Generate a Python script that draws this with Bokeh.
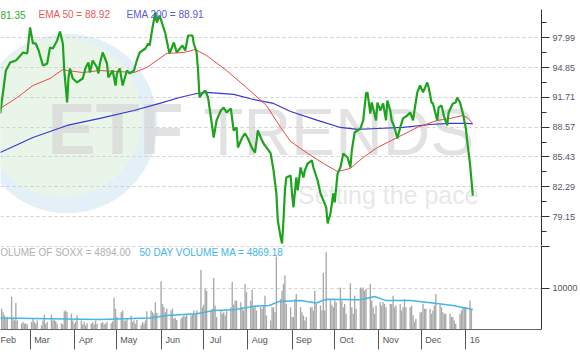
import pandas as pd
from bokeh.plotting import figure
from bokeh.layouts import column
from bokeh.models import Range1d, FixedTicker, PrintfTickFormatter, Label
from bokeh.core.properties import value
from bokeh.embed import file_html
from bokeh.resources import INLINE

BASE = pd.Timestamp("2015-01-01")
FONT = "Liberation Sans"

# ---- price (close), days counted from 2015-01-01 ----
close_day = [38,42,45,49,51,54,57,59,61,63,65,68,71,73,75,78,80,82,83,85,
             86,87,89,92,96,98,100,101,103,106,107,108,110,113,114,117,119,120,122,124,
             127,129,132,134,136,140,142,143,145,147,148,150,154,156,157,160,162,166,168,170,
             173,174,176,177,178,180,182,184,186,188,190,193,195,197,200,202,204,205,208,210,
             212,215,217,219,221,223,225,228,230,232,233,235,236,237,238,239,242,243,244,246,
             247,249,251,252,254,257,258,261,263,265,267,268,270,272,273,275,277,279,282,284,
             285,287,291,293,295,296,298,299,300,302,303,305,307,309,310,312,313,315,317,319,
             321,324,326,328,329,331,333,335,338,339,341,342,345,346,348,350,352,353,356,358,
             359,361,363,365,366,368,370]
close = [90.01,94.54,95.39,95.60,95.91,96.44,96.34,99.08,97.39,97.39,
         96.65,95.07,95.28,96.97,96.86,97.71,98.65,97.39,94.54,91.17,
         93.81,94.76,93.70,93.28,93.70,94.86,95.39,94.33,95.60,94.86,
         94.23,95.28,96.44,95.28,93.81,94.54,92.96,94.23,94.76,92.96,
         94.54,94.23,94.54,95.60,96.44,96.86,97.39,97.18,99.08,100.66,
         99.60,100.34,98.44,96.97,96.34,97.49,96.44,97.18,96.65,98.23,
         98.23,97.39,96.44,94.54,91.70,92.12,92.44,91.70,89.59,87.48,
         89.28,90.33,90.65,90.12,90.54,88.22,88.54,86.43,87.48,87.91,
         87.38,86.33,85.90,88.22,87.48,86.85,86.43,85.80,84.01,81.58,
         78.74,76.95,76.32,78.74,81.90,83.27,83.48,81.58,80.11,83.27,
         81.90,84.32,83.27,84.01,84.74,85.06,84.32,82.95,81.58,80.85,
         80.11,78.42,79.48,81.58,80.64,83.69,84.32,85.80,85.38,84.32,
         86.11,88.01,88.43,89.28,92.12,92.23,90.01,91.17,90.54,89.28,
         91.17,90.33,91.07,89.28,91.38,90.33,89.28,88.54,87.38,88.54,
         89.49,89.80,90.12,89.28,90.33,92.23,92.96,92.23,93.28,92.75,
         91.17,91.07,89.28,90.65,90.86,89.59,88.75,90.12,91.07,91.17,
         91.70,91.17,90.01,88.54,87.17,84.74,81.35]

ema50_day = [38,50,61,73,82,85,96,108,120,132,141,155,167,175,183,197,211,225,235,242,
             254,265,275,284,293,303,317,331,345,354,363,366,370]
ema50 = [90.54,91.70,92.96,93.70,94.65,94.54,94.33,94.54,94.44,94.33,94.86,96.34,96.44,96.76,
         96.12,94.54,92.75,90.86,88.54,87.06,85.80,84.74,83.90,84.22,85.38,86.43,87.48,88.54,
         89.28,89.49,89.80,89.59,88.92]

ema200_day = [38,61,85,108,132,150,164,176,183,202,216,230,242,261,277,289,303,321,340,354,366,370]
ema200 = [85.90,87.48,88.75,89.49,90.33,91.07,91.70,92.12,92.23,92.02,91.49,91.07,90.22,89.28,
          88.54,88.33,88.43,88.54,88.85,88.96,88.96,88.91]

# ---- daily volume (thousands of shares), trading days from 2015-02-09 ----
vol_feb = [5.0,4.2,3.4,2.6,3.0,8.0,2.8,2.2,6.4,2.2,1.4,1.8,1.4,1.5,1.2]
vol_mar = [1.8,2.8,1.8,1.4,2.2,1.0,2.2,3.6,1.4,1.8,3.6,2.2,2.3,2.0,1.4,1.5,1.2,4.4,4.6,4.2,3.8,2.2]
vol_apr = [1.4,1.8,3.4,2.2,1.2,1.8,1.0,1.5,1.4,1.8,1.2,2.2,1.4,1.5,1.8,1.2,1.4,1.8,1.5,2.0,7.7,5.0]
vol_may = [3.0,4.2,4.6,2.2,2.2,2.8,3.4,1.8,2.2,1.4,2.3,1.0,1.8,1.4,2.2,4.4,4.6,4.2,3.8,6.6,4.0]
vol_jun = [11.7,6.2,5.4,4.2,5.0,4.6,5.0,2.6,2.8,2.3,2.6,3.0,3.4,3.1,3.6,3.4,3.6,4.6,3.8,4.6,14.4,5.4]
vol_jul = [6.0,9.8,9.4,4.6,5.0,12.5,5.8,3.0,4.6,3.8,4.2,3.4,4.4,5.4,11.5,6.0,7.0,7.0,6.6,5.4,4.6,11.1,9.0]
vol_aug = [7.0,9.6,5.4,5.8,4.6,5.4,5.0,5.6,8.2,3.4,2.2,5.4,5.4,4.2,17.7,7.4,9.4,11.1,13.1,6.2,5.4]
vol_sep = [3.0,3.0,7.4,8.6,5.4,4.2,3.4,2.2,3.0,5.4,5.4,4.6,9.4,6.2,5.8,4.6,13.7,4.6,18.7,7.0,6.0,5.4]
vol_oct = [7.0,6.6,10.2,7.0,5.4,6.2,3.8,11.2,5.4,3.8,8.2,5.0,10.2,9.8,10.2,9.4,9.8,11.1,7.0,5.4,3.8,5.8]
vol_nov = [6.6,5.8,6.6,6.2,5.4,6.2,6.2,8.2,5.4,5.8,6.2,4.6,5.4,7.4,5.4,5.4,5.8,3.4,1.8,2.6,4.2]
vol_dec = [4.2,6.2,5.0,5.0,5.0,3.8,4.6,5.8,8.6,6.0,5.4,4.2,3.8,3.8,3.8,3.0,3.0,2.2,1.4,3.8,4.6,5.4,5.4]
vol_jan = [5.4,7.0,4.894]

volma_day = [38,73,108,143,155,176,188,202,216,227,234,249,260,267,291,301,309,326,342,356,370]
volma_k = [2.8,2.6,2.4,2.8,3.4,3.8,4.6,4.8,5.6,5.8,6.8,7.0,6.4,7.3,7.2,8.0,7.0,7.0,6.4,5.8,4.869]

price_ticks = [97.99, 94.85, 91.71, 88.57, 85.43, 82.29, 79.15]
volume_ticks = [10000, 20000]
month_labels = ["Feb", "Mar", "Apr", "May", "Jun", "Jul", "Aug", "Sep", "Oct", "Nov", "Dec", "16"]

# ---- derived columns ----
def to_dates(days):
    return BASE + pd.to_timedelta(days, unit="D")

volume = [v * 1000 for v in (vol_feb + vol_mar + vol_apr + vol_may + vol_jun + vol_jul +
                             vol_aug + vol_sep + vol_oct + vol_nov + vol_dec + vol_jan)]
vol_dates = pd.bdate_range("2015-02-09", periods=len(volume))
month_starts = pd.date_range("2015-02-01", periods=len(month_labels), freq="MS")
step = (price_ticks[0] - price_ticks[1]) / 2
minor = [price_ticks[0] + step] + [t - step for t in price_ticks]

X0, X1 = pd.Timestamp("2015-02-08 05:00"), pd.Timestamp("2016-02-23 06:00")
x_range = Range1d(X0, X1)
FRAME_W = 542
ms_per_px = (X1 - X0).total_seconds() * 1000 / FRAME_W

# month tick lines (minor ticks) and labels set just right of them (major ticks)
tick_ms = [int(t.value // 10**6) for t in month_starts]
label_ms = [int(t + (4 + 2.6 * len(lab)) * ms_per_px) for t, lab in zip(tick_ms, month_labels)]

GRID = "#cfcfcf"
AXIS = "#333333"
LABEL = "#555566"

# ---------------- price panel ----------------
p = figure(width=580, height=245, x_range=x_range, y_range=Range1d(76.10, 100.97),
           x_axis_type="datetime", x_axis_location=None, y_axis_location="right",
           toolbar_location=None, output_backend="svg",
           min_border_left=0, min_border_right=38, min_border_top=9, min_border_bottom=0)
p.outline_line_color = None
p.xgrid.visible = False
p.extra_x_ranges = {"px": Range1d(0, FRAME_W)}
p.extra_y_ranges = {"px": Range1d(0, 236)}

# watermark (decoration, in pixel space)
wm = dict(x_range_name="px", y_range_name="px", level="image")
p.circle(x=[67], y=[122], radius=90, fill_color="#e3f0f8", line_color=None, **wm)
p.circle(x=[62], y=[128], radius=80, fill_color="#eaf5e8", fill_alpha=0.9, line_color=None, **wm)
p.text(x=[47], y=[77], text=["ETF"], text_font=value(FONT), text_font_style="bold",
       text_font_size="72px", text_color="#d6d6d6", text_alpha=0.7, **wm)
p.text(x=[203], y=[77], text=["TRENDS"], text_font=value(FONT),
       text_font_size="66px", text_color="#d6d6d6", text_alpha=0.7, **wm)
p.text(x=[298], y=[37], text=["Setting the pace"], text_font=value(FONT),
       text_font_size="25px", text_color="#e2e2e2", text_alpha=0.8, **wm)

p.line(to_dates(ema200_day), ema200, line_color="#3838d0", line_width=1.2)
p.line(to_dates(ema50_day), ema50, line_color="#e84848", line_width=1)
p.line(to_dates(close_day), close, line_color="#1fa31f", line_width=2.2)

ya = p.yaxis[0]
ya.ticker = FixedTicker(ticks=price_ticks, minor_ticks=minor)
ya.formatter = PrintfTickFormatter(format="%.2f")
p.ygrid.grid_line_color = GRID
p.ygrid.grid_line_dash = "3 3"
ya.axis_line_color = AXIS
ya.major_tick_line_color = AXIS
ya.minor_tick_line_color = AXIS
ya.major_tick_in = 0
ya.major_tick_out = 8
ya.minor_tick_in = 0
ya.minor_tick_out = 5
ya.major_label_standoff = 3
ya.major_label_text_font = FONT
ya.major_label_text_font_size = "9px"
ya.major_label_text_color = LABEL

for txt, x, col in [("81.35", 0, "#33aa33"), ("EMA 50 = 88.92", 38, "#e85a5a"),
                    ("EMA 200 = 88.91", 126, "#5a5ad8")]:
    p.add_layout(Label(x=x, y=231, x_units="screen", y_units="screen", text=txt,
                       text_font=FONT, text_font_size="10px", text_color=col,
                       text_baseline="middle"))

# ---------------- volume panel ----------------
v = figure(width=580, height=114, x_range=x_range, y_range=Range1d(0, 20340),
           x_axis_type="datetime", y_axis_location="right",
           toolbar_location=None, output_backend="svg",
           min_border_left=0, min_border_right=38, min_border_top=0, min_border_bottom=30)
v.outline_line_color = None
v.xgrid.visible = False
v.vbar(x=vol_dates, top=volume, width=0.95 * 86400000, fill_color="#a9a9a9", line_color=None)
v.line(to_dates(volma_day), [m * 1000 for m in volma_k], line_color="#45b4e6", line_width=1.5)

vy = v.yaxis[0]
vy.ticker = FixedTicker(ticks=volume_ticks)
vy.major_label_overrides = {20000: ""}
vy.axis_line_color = AXIS
vy.major_tick_line_color = AXIS
vy.major_tick_in = 0
vy.major_tick_out = 8
vy.major_label_standoff = 3
vy.major_label_text_font = FONT
vy.major_label_text_font_size = "9px"
vy.major_label_text_color = LABEL
v.ygrid.grid_line_color = GRID
v.ygrid.grid_line_dash = "3 3"

vx = v.xaxis[0]
vx.ticker = FixedTicker(ticks=label_ms, minor_ticks=tick_ms)
vx.major_label_overrides = {k: lab for k, lab in zip(label_ms, month_labels)}
vx.axis_line_color = "#666666"
vx.major_tick_out = 0
vx.major_tick_in = 0
vx.minor_tick_line_color = "#555555"
vx.minor_tick_out = 20
vx.minor_tick_in = 0
vx.major_label_standoff = -15
vx.major_label_text_font = FONT
vx.major_label_text_font_size = "9px"
vx.major_label_text_color = "#555555"

for txt, x, col in [("VOLUME OF SOXX = 4894.00", -7, "#b0b0b0"),
                    ("50 DAY VOLUME MA = 4869.18", 139, "#45b4e6")]:
    v.add_layout(Label(x=x, y=77, x_units="screen", y_units="screen", text=txt,
                       text_font=FONT, text_font_size="10px", text_color=col,
                       text_baseline="middle"))

layout = column(p, v, spacing=0)
open("out.html", "w").write(file_html(layout, INLINE))
